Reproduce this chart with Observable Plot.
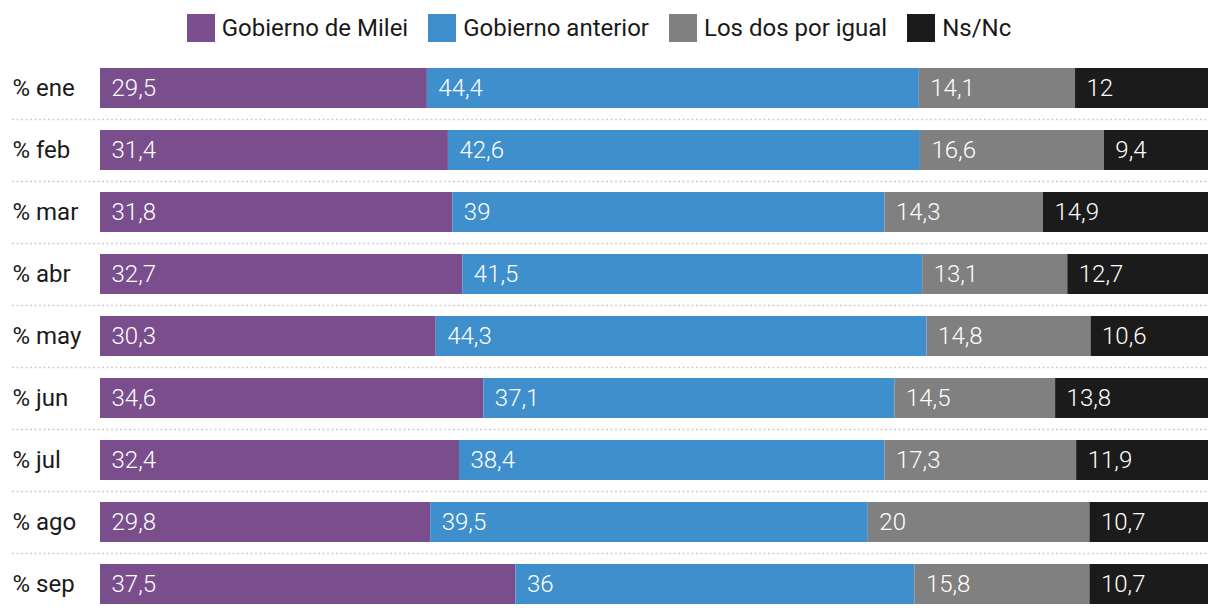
<!DOCTYPE html>
<html>
<head>
<meta charset="utf-8">
<script src="https://cdn.jsdelivr.net/npm/d3@7"></script>
<script src="https://cdn.jsdelivr.net/npm/@observablehq/plot@0.6"></script>
<style>
  html, body { margin: 0; padding: 0; background: #fff; }
  body { width: 1220px; height: 616px; overflow: hidden; font-family: Roboto, "Open Sans", sans-serif; }
  #legend { height: 56px; display: flex; justify-content: center; align-items: center; padding-right: 22px; box-sizing: border-box; }
  .item { display: flex; align-items: center; margin-right: 20px; font-size: 24px; color: #1a1a1a; }
  .item:last-child { margin-right: 0; }
  .sw { width: 28px; height: 28px; margin-right: 7px; }
</style>
</head>
<body>
<div id="legend"></div>
<div id="chart"></div>
<script>
const months = ["% ene", "% feb", "% mar", "% abr", "% may", "% jun", "% jul", "% ago", "% sep"];
const series = ["Gobierno de Milei", "Gobierno anterior", "Los dos por igual", "Ns/Nc"];
const colors = ["#7a4e8d", "#3f8fcc", "#808080", "#1b1b1b"];
const milei    = [29.5, 31.4, 31.8, 32.7, 30.3, 34.6, 32.4, 29.8, 37.5];
const anterior = [44.4, 42.6, 39.0, 41.5, 44.3, 37.1, 38.4, 39.5, 36.0];
const ambos    = [14.1, 16.6, 14.3, 13.1, 14.8, 14.5, 17.3, 20.0, 15.8];
const nsnc     = [12.0, 9.4, 14.9, 12.7, 10.6, 13.8, 11.9, 10.7, 10.7];

const cols = [milei, anterior, ambos, nsnc];
const data = [];
months.forEach((m, i) => {
  series.forEach((s, j) => data.push({month: m, series: s, value: cols[j][i]}));
});

const legend = document.getElementById("legend");
series.forEach((s, j) => {
  const it = document.createElement("div");
  it.className = "item";
  it.innerHTML = `<div class="sw" style="background:${colors[j]}"></div><span>${s}</span>`;
  legend.appendChild(it);
});

const fmt = v => String(v).replace(".", ",");

const chart = Plot.plot({
  width: 1220,
  height: 560,
  marginTop: 12,
  marginBottom: 12,
  marginLeft: 100,
  marginRight: 12,
  style: {fontFamily: "Roboto, sans-serif", background: "#fff"},
  x: {domain: [0, 100], axis: null},
  y: {domain: months, paddingInner: 0.355, paddingOuter: 0, label: null},
  color: {domain: series, range: colors},
  marks: [
    Plot.ruleY(months.slice(1), {y: d => d, dy: -31, insetLeft: -88, stroke: "#cfcfcf", strokeWidth: 1.5, strokeDasharray: "2,2.5"}),
    Plot.barX(data, Plot.stackX({x: "value", y: "month", fill: "series", z: "series", order: series})),
    Plot.text(data, Plot.stackX1({x: "value", y: "month", z: "series", order: series, text: d => fmt(d.value), textAnchor: "start", dx: 11, fill: "white", fontSize: 24, fontWeight: 300})),
    Plot.axisY({tickSize: 0, tickPadding: 0, textAnchor: "start", dx: -88, fontSize: 24, fill: "#1a1a1a", label: null})
  ]
});
document.getElementById("chart").appendChild(chart);
</script>
</body>
</html>
